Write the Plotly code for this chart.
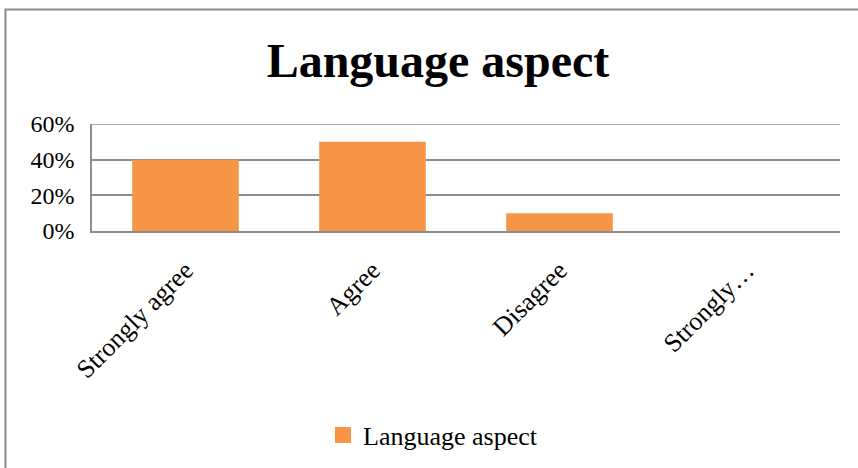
import plotly.graph_objects as go

# Survey responses for the language aspect
categories = ["Strongly agree", "Agree", "Disagree", "Strongly disagree"]
tick_labels = ["Strongly agree", "Agree", "Disagree", "Strongly…"]
shares = [0.40, 0.50, 0.10, 0.0]
y_ticks = [0, 0.2, 0.4, 0.6]
series_name = "Language aspect"

serif = "Liberation Serif, Times New Roman, serif"
grid_grey = "#8c8c8c"
bar_orange = "#F79646"

fig = go.Figure()
fig.add_trace(go.Bar(
    x=categories,
    y=shares,
    name=series_name,
    marker=dict(color=bar_orange, line=dict(width=0)),
    showlegend=False,
))
# legend entry with a bigger square swatch, like the Excel original
fig.add_trace(go.Scatter(
    x=[None], y=[None],
    mode="markers",
    name=series_name,
    marker=dict(symbol="square", size=17, color=bar_orange),
    showlegend=True,
))

fig.update_layout(
    width=858,
    height=468,
    margin=dict(l=92, r=18, t=124, b=236),
    paper_bgcolor="white",
    plot_bgcolor="white",
    bargap=0.43,
    title=dict(
        text="<b>Language aspect</b>",
        font=dict(family=serif, size=48, color="black"),
        x=438 / 858, xanchor="center",
        y=1 - 60 / 468, yanchor="middle",
    ),
    legend=dict(
        orientation="h",
        x=(433 - 92) / 748, xanchor="center",
        y=-1.88, yanchor="middle",
        font=dict(family=serif, size=26, color="black"),
    ),
    font=dict(family=serif, color="black"),
)

fig.update_yaxes(
    range=[0, 0.6],
    tickvals=y_ticks,
    tickformat=".0%",
    showgrid=True,
    gridcolor=grid_grey,
    gridwidth=1.5,
    showline=True,
    linecolor=grid_grey,
    linewidth=1.5,
    zeroline=False,
    ticks="",
    ticklabelstandoff=11,
    tickfont=dict(family=serif, size=24, color="black"),
)

fig.update_xaxes(
    tickvals=categories,
    ticktext=tick_labels,
    tickangle=-45,
    showline=True,
    linecolor=grid_grey,
    linewidth=1.5,
    ticks="",
    ticklabelstandoff=12,
    tickfont=dict(family=serif, size=26, color="black"),
)

# plotly drops the gridline sitting on the top edge, so draw it explicitly
fig.add_shape(
    type="line", xref="paper", yref="y",
    x0=0, x1=1, y0=y_ticks[-1], y1=y_ticks[-1],
    line=dict(color=grid_grey, width=1.5),
)

# outer chart border (cropped on the right and bottom in the original)
fig.add_shape(
    type="rect", xref="paper", yref="paper",
    x0=(5.5 - 92) / 748, x1=1.2,
    y0=-3.0, y1=1 + (124 - 8.5) / 108,
    line=dict(color="#8a8a8a", width=2),
    layer="below",
)

# drop the default 8px body margin so the figure sits at the page corner
fig.write_html(
    "out.html",
    config={"displayModeBar": False},
    post_script="document.body.style.margin='0';",
)
